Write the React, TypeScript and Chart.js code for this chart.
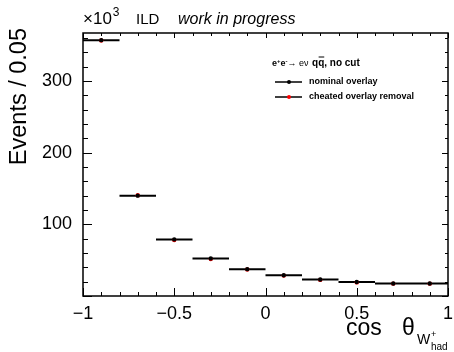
import React, { useEffect, useRef } from "react";
import { Chart, registerables } from "chart.js";

Chart.register(...registerables);

// ---- data (values in units of 10^3 events) ----
const binCenters = [-0.9, -0.7, -0.5, -0.3, -0.1, 0.1, 0.3, 0.5, 0.7, 0.9];
const binHalfWidth = 0.1;
const nominalOverlay = [357, 140, 79, 52.5, 37.5, 29, 23, 19.5, 17.5, 17.5];
const cheatedRemoval = [356.5, 140.5, 78, 51.5, 37, 28.5, 22.5, 19, 17.2, 17.2];
const xTickValues = [-1, -0.5, 0, 0.5, 1];
const yTickValues = [100, 200, 300];
const xMin = -1;
const xMax = 1;
const yMin = 0;
const yMax = 367;

const FONT = "'Liberation Sans', Arial, Helvetica, sans-serif";

function fmtX(v: number): string {
  if (v < 0) return "\u2212" + String(Math.abs(v));
  return String(v);
}

const rootStylePlugin = {
  id: "rootStyle",
  afterDraw(chart: any) {
    const ctx: CanvasRenderingContext2D = chart.ctx;
    const { left, right, top, bottom } = chart.chartArea;
    const xs = chart.scales.x;
    const ys = chart.scales.y;
    ctx.save();
    ctx.strokeStyle = "#000";
    ctx.fillStyle = "#000";

    // frame
    ctx.lineWidth = 1.5;
    ctx.strokeRect(left, top, right - left, bottom - top);

    // x ticks (major 0.5, minor 0.1)
    ctx.lineWidth = 1;
    ctx.beginPath();
    for (let i = -10; i <= 10; i++) {
      const v = i / 10;
      const px = Math.round(xs.getPixelForValue(v)) + 0.5;
      const major = i % 5 === 0;
      ctx.moveTo(px, bottom);
      ctx.lineTo(px, bottom - (major ? 8 : 4));
      ctx.moveTo(px, top);
      ctx.lineTo(px, top + (major ? 5 : 3));
    }
    // y ticks (major 100, minor 20)
    for (let v = 0; v <= yMax; v += 20) {
      const py = Math.round(ys.getPixelForValue(v)) + 0.5;
      const major = v % 100 === 0;
      ctx.moveTo(left, py);
      ctx.lineTo(left + (major ? 9 : 5), py);
      ctx.moveTo(right, py);
      ctx.lineTo(right - (major ? 6 : 3), py);
    }
    ctx.stroke();

    // top annotations
    ctx.textBaseline = "alphabetic";
    ctx.textAlign = "left";
    ctx.font = `17px ${FONT}`;
    ctx.fillText("\u00d710", 83, 24);
    const xw = ctx.measureText("\u00d710").width;
    ctx.font = `12px ${FONT}`;
    ctx.fillText("3", 83 + xw + 1, 16);
    ctx.font = `15px ${FONT}`;
    ctx.fillText("ILD", 136, 24);
    ctx.font = `italic 16px ${FONT}`;
    ctx.fillText("work in progress", 178, 24);

    // y-axis title
    ctx.save();
    ctx.translate(26, 28);
    ctx.rotate(-Math.PI / 2);
    ctx.textAlign = "right";
    ctx.font = `23.5px ${FONT}`;
    ctx.fillText("Events / 0.05", 0, 0);
    ctx.restore();

    // x-axis title
    ctx.textAlign = "left";
    ctx.font = `23px ${FONT}`;
    ctx.fillText("cos", 346, 335);
    ctx.fillText("\u03b8", 402, 335);
    ctx.font = `14px ${FONT}`;
    ctx.fillText("W", 417, 344);
    ctx.font = `9px ${FONT}`;
    ctx.fillText("+", 431, 337);
    ctx.font = `10px ${FONT}`;
    ctx.fillText("had", 431, 350);

    // legend header
    let x = 272;
    const hy = 66;
    ctx.font = `bold 9px ${FONT}`;
    ctx.fillText("e", x, hy);
    x += ctx.measureText("e").width;
    ctx.font = `bold 6px ${FONT}`;
    ctx.fillText("+", x, hy - 3.5);
    x += ctx.measureText("+").width;
    ctx.font = `bold 9px ${FONT}`;
    ctx.fillText("e", x, hy);
    x += ctx.measureText("e").width;
    ctx.font = `bold 6px ${FONT}`;
    ctx.fillText("-", x, hy - 3.5);
    x += ctx.measureText("-").width;
    ctx.font = `9px ${FONT}`;
    ctx.fillText("\u2192 e\u03bd ", x, hy);
    x += ctx.measureText("\u2192 e\u03bd ").width + 1;
    ctx.font = `bold 10px ${FONT}`;
    const qw = ctx.measureText("q").width;
    ctx.fillText("q", x, hy);
    ctx.fillText("q", x + qw, hy);
    ctx.lineWidth = 1;
    ctx.beginPath();
    ctx.moveTo(x + qw + 0.5, hy - 9);
    ctx.lineTo(x + 2 * qw, hy - 9);
    ctx.stroke();
    ctx.fillText(", no cut", x + 2 * qw, hy);

    // legend entries
    const entries = [
      { label: "nominal overlay", dot: "#000", y: 82 },
      { label: "cheated overlay removal", dot: "#ff0000", y: 97 },
    ];
    entries.forEach((e) => {
      ctx.strokeStyle = "#000";
      ctx.lineWidth = 1.5;
      ctx.beginPath();
      ctx.moveTo(275, e.y);
      ctx.lineTo(302, e.y);
      ctx.stroke();
      ctx.fillStyle = e.dot;
      ctx.beginPath();
      ctx.arc(289, e.y, 2, 0, Math.PI * 2);
      ctx.fill();
      ctx.fillStyle = "#000";
      ctx.font = `bold 9px ${FONT}`;
      ctx.textBaseline = "middle";
      ctx.fillText(e.label, 309, e.y);
      ctx.textBaseline = "alphabetic";
    });

    ctx.restore();
  },
};

export default function App() {
  const canvasRef = useRef<HTMLCanvasElement | null>(null);

  useEffect(() => {
    document.body.style.margin = "0";
    const canvas = canvasRef.current;
    if (!canvas) return;

    const barData: { x: number; y: number | null }[] = [];
    binCenters.forEach((c, i) => {
      barData.push({ x: c - binHalfWidth, y: nominalOverlay[i] });
      barData.push({ x: c + binHalfWidth, y: nominalOverlay[i] });
      barData.push({ x: c + binHalfWidth, y: null });
    });

    const chart = new Chart(canvas, {
      type: "line",
      data: {
        datasets: [
          {
            label: "nominal overlay",
            data: binCenters.map((c, i) => ({ x: c, y: nominalOverlay[i] })),
            showLine: false,
            pointRadius: 2.2,
            pointBackgroundColor: "#000",
            pointBorderWidth: 0,
            borderColor: "#000",
          },
          {
            label: "cheated overlay removal",
            data: binCenters.map((c, i) => ({ x: c, y: cheatedRemoval[i] })),
            showLine: false,
            pointRadius: 2.2,
            pointBackgroundColor: "#ff0000",
            pointBorderWidth: 0,
            borderColor: "#ff0000",
          },
          {
            label: "bins",
            data: barData as any,
            showLine: true,
            spanGaps: false,
            pointRadius: 0,
            borderColor: "#000",
            borderWidth: 2,
            fill: false,
          },
        ],
      },
      options: {
        responsive: false,
        animation: false,
        devicePixelRatio: 1,
        layout: { padding: { top: 33, right: 6, left: 0, bottom: 0 } },
        plugins: {
          legend: { display: false },
          tooltip: { enabled: false },
          title: { display: false },
        },
        scales: {
          x: {
            type: "linear",
            min: xMin,
            max: xMax,
            grid: { display: false, drawTicks: false },
            border: { display: false },
            afterBuildTicks: (s: any) => {
              s.ticks = xTickValues.map((v) => ({ value: v }));
            },
            afterFit: (s: any) => {
              s.height = 56;
              s.paddingLeft = 0;
              s.paddingRight = 0;
            },
            ticks: {
              autoSkip: false,
              maxRotation: 0,
              minRotation: 0,
              padding: 7,
              color: "#000",
              font: { family: FONT, size: 18 },
              callback: (v: any) => fmtX(Number(v)),
            },
          },
          y: {
            type: "linear",
            min: yMin,
            max: yMax,
            grid: { display: false, drawTicks: false },
            border: { display: false },
            afterBuildTicks: (s: any) => {
              s.ticks = yTickValues.map((v) => ({ value: v }));
            },
            afterFit: (s: any) => {
              s.width = 83;
              s.paddingTop = 0;
              s.paddingBottom = 0;
            },
            ticks: {
              autoSkip: false,
              padding: 11,
              color: "#000",
              font: { family: FONT, size: 18 },
              callback: (v: any) => String(v),
            },
          },
        },
      },
      plugins: [rootStylePlugin],
    });

    return () => chart.destroy();
  }, []);

  return (
    <div style={{ width: 454, height: 352 }}>
      <canvas ref={canvasRef} width={454} height={352} style={{ display: "block" }} />
    </div>
  );
}
